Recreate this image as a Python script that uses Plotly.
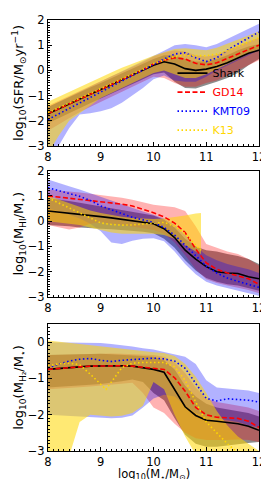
import plotly.graph_objects as go
from plotly.subplots import make_subplots

# ---------------- data ----------------
MASS = [8.0, 8.2, 8.4, 8.6, 8.8, 9.0, 9.2, 9.4, 9.6, 9.8, 10.0,
        10.2, 10.4, 10.6, 10.8, 11.0, 11.2, 11.4, 11.6, 11.8, 12.0]

# Panel 1: log10(SFR)
sfr_shark = [-1.72, -1.52, -1.33, -1.14, -0.95, -0.76, -0.57, -0.38, -0.19, 0.0, 0.2,
             0.34, 0.25, 0.07, 0.0, 0.05, 0.15, 0.3, 0.5, 0.68, 0.8]
sfr_shark_lo = [-2.1, -1.9, -1.7, -1.5, -1.3, -1.12, -0.93, -0.73, -0.55, -0.35, -0.15,
                -0.08, -0.45, -0.7, -0.72, -0.6, -0.45, -0.3, -0.1, 0.2, 0.45]
sfr_shark_hi = [-1.45, -1.25, -1.05, -0.86, -0.68, -0.5, -0.31, -0.12, 0.07, 0.27, 0.45,
                0.6, 0.6, 0.45, 0.35, 0.35, 0.45, 0.6, 0.8, 0.95, 1.05]
sfr_gd14 = [-1.72, -1.52, -1.33, -1.14, -0.95, -0.76, -0.57, -0.38, -0.19, 0.02, 0.25,
            0.4, 0.5, 0.45, 0.28, 0.22, 0.3, 0.48, 0.65, 0.85, 1.0]
sfr_gd14_lo = [-2.4, -2.15, -1.9, -1.65, -1.45, -1.25, -1.05, -0.85, -0.65, -0.45, -0.25,
               -0.3, -0.5, -0.65, -0.65, -0.5, -0.4, -0.2, 0.0, 0.2, 0.4]
sfr_gd14_hi = [-1.4, -1.2, -1.0, -0.8, -0.6, -0.42, -0.23, -0.05, 0.13, 0.33, 0.55,
               0.7, 0.8, 0.75, 0.6, 0.55, 0.62, 0.8, 0.98, 1.15, 1.3]
sfr_kmt = [-1.95, -1.73, -1.5, -1.28, -1.06, -0.84, -0.62, -0.41, -0.2, 0.02, 0.23,
           0.45, 0.65, 0.7, 0.5, 0.35, 0.5, 0.8, 1.05, 1.3, 1.52]
sfr_kmt_lo = [-3.5, -3.0, -2.3, -1.75, -1.7, -1.62, -1.5, -1.28, -1.0, -0.7, -0.35,
              -0.2, -0.4, -0.45, -0.45, -0.25, 0.0, 0.2, 0.4, 0.6, 0.8]
sfr_kmt_hi = [-1.45, -1.25, -1.05, -0.85, -0.65, -0.45, -0.25, -0.05, 0.15, 0.35, 0.55,
              0.78, 1.0, 1.05, 1.0, 0.92, 1.05, 1.25, 1.45, 1.65, 1.85]
sfr_k13 = [-1.68, -1.49, -1.3, -1.11, -0.92, -0.73, -0.54, -0.35, -0.16, 0.04, 0.27,
           0.42, 0.55, 0.6, 0.58, 0.58, 0.65, 0.78, 0.95, 1.12, 1.3]
sfr_k13_lo = [-3.3, -2.6, -2.0, -1.7, -1.4, -1.1, -0.9, -0.7, -0.5, -0.3, -0.1,
              0.0, -0.15, -0.3, -0.3, -0.15, 0.05, 0.25, 0.45, 0.65, 0.85]
sfr_k13_hi = [-1.25, -1.05, -0.85, -0.65, -0.45, -0.27, -0.08, 0.1, 0.27, 0.43, 0.58,
              0.72, 0.85, 0.88, 0.85, 0.8, 0.9, 1.05, 1.2, 1.38, 1.55]

# Panel 2: log10(M_HI/M*)
hi_shark = [0.4, 0.36, 0.32, 0.27, 0.22, 0.18, 0.13, 0.08, 0.03, -0.03, -0.1,
            -0.3, -0.65, -1.15, -1.5, -1.8, -2.0, -2.05, -2.07, -2.2, -2.28]
hi_shark_lo = [-0.15, -0.17, -0.2, -0.25, -0.28, -0.3, -0.32, -0.35, -0.38, -0.42, -0.48,
               -0.7, -1.05, -1.55, -1.95, -2.25, -2.4, -2.5, -2.55, -2.65, -2.75]
hi_shark_hi = [0.9, 0.86, 0.8, 0.73, 0.66, 0.6, 0.53, 0.46, 0.38, 0.3, 0.22,
               0.05, -0.25, -0.7, -1.0, -1.15, -1.2, -1.3, -1.38, -1.5, -1.7]
hi_gd14 = [1.0, 0.95, 0.9, 0.87, 0.82, 0.78, 0.73, 0.67, 0.6, 0.48, 0.33,
           0.17, -0.08, -0.45, -1.1, -1.65, -1.9, -2.05, -2.15, -2.28, -2.5]
hi_gd14_lo = [-0.15, -0.25, -0.33, -0.25, -0.1, -0.05, -0.1, -0.15, -0.2, -0.28, -0.35,
              -0.5, -0.85, -1.35, -1.9, -2.3, -2.45, -2.55, -2.65, -2.72, -2.85]
hi_gd14_hi = [1.25, 1.22, 1.18, 1.13, 1.08, 1.03, 0.98, 0.92, 0.85, 0.75, 0.65,
              0.6, 0.55, 0.4, -0.2, -0.9, -1.05, -1.2, -1.3, -1.5, -1.75]
hi_kmt = [1.32, 1.2, 1.1, 0.98, 0.82, 0.6, 0.45, 0.3, 0.15, 0.05, -0.05,
          -0.25, -0.55, -0.95, -1.35, -1.78, -2.05, -2.25, -2.38, -2.5, -2.62]
hi_kmt_lo = [0.5, 0.4, 0.25, 0.1, -0.1, -0.4, -0.85, -0.9, -0.78, -0.7, -0.68,
             -0.8, -1.2, -1.7, -2.1, -2.4, -2.55, -2.65, -2.75, -2.85, -2.95]
hi_kmt_hi = [1.65, 1.5, 1.38, 1.25, 1.1, 0.95, 0.8, 0.65, 0.5, 0.38, 0.25,
             0.1, -0.15, -0.55, -1.0, -1.35, -1.55, -1.7, -1.8, -1.9, -2.05]
hi_k13_mass = [8.0, 8.2, 8.4, 8.6, 8.8, 9.0, 9.2, 9.4, 9.6, 9.8, 10.0,
               10.2, 10.4, 10.6, 10.8, 10.9]
hi_k13 = [0.92, 0.72, 0.5, 0.3, 0.13, -0.07, -0.13, -0.16, -0.15, -0.12, -0.1,
          -0.05, -0.2, -0.5, -0.95, -1.15]
hi_k13_lo = [0.0, -0.05, -0.1, -0.15, -0.25, -0.35, -0.45, -0.5, -0.5, -0.5, -0.5,
             -0.55, -0.7, -0.95, -1.2, -1.3]
hi_k13_hi = [1.0, 0.85, 0.7, 0.55, 0.42, 0.32, 0.24, 0.17, 0.12, 0.09, 0.08,
             0.1, 0.15, 0.22, 0.3, 0.32]

# Panel 3: log10(M_H2/M*)
h2_shark = [-0.75, -0.72, -0.7, -0.68, -0.66, -0.65, -0.65, -0.65, -0.66, -0.7, -0.75,
            -0.83, -1.3, -1.78, -2.02, -2.15, -2.18, -2.22, -2.25, -2.32, -2.43]
h2_shark_lo = [-1.25, -1.23, -1.21, -1.19, -1.17, -1.15, -1.12, -1.08, -1.03, -1.1, -1.4,
               -1.6, -2.1, -2.55, -2.8, -2.88, -2.88, -2.85, -2.82, -2.78, -2.75]
h2_shark_hi = [-0.35, -0.34, -0.33, -0.33, -0.32, -0.32, -0.33, -0.34, -0.36, -0.38, -0.4,
               -0.5, -0.75, -1.2, -1.5, -1.7, -1.8, -1.85, -1.9, -1.95, -2.05]
h2_gd14 = [-0.75, -0.72, -0.7, -0.68, -0.66, -0.65, -0.65, -0.65, -0.66, -0.69, -0.72,
           -0.75, -0.98, -1.35, -1.8, -2.0, -2.07, -2.08, -2.1, -2.18, -2.35]
h2_gd14_lo = [-1.3, -1.28, -1.26, -1.24, -1.22, -1.2, -1.18, -1.15, -1.12, -1.4, -1.8,
              -1.95, -2.25, -2.5, -2.65, -2.7, -2.7, -2.7, -2.68, -2.7, -2.75]
h2_gd14_hi = [-0.35, -0.34, -0.33, -0.32, -0.31, -0.3, -0.31, -0.32, -0.33, -0.34, -0.35,
              -0.4, -0.55, -0.85, -1.25, -1.55, -1.65, -1.7, -1.75, -1.8, -1.9]
h2_kmt = [-0.7, -0.6, -0.52, -0.47, -0.45, -0.5, -0.53, -0.5, -0.48, -0.46, -0.44,
          -0.46, -0.52, -0.72, -1.12, -1.55, -1.62, -1.56, -1.58, -1.6, -1.65]
h2_kmt_lo = [-2.0, -2.0, -2.02, -2.05, -2.07, -2.08, -2.1, -2.08, -2.02, -1.8, -1.55,
             -1.45, -1.5, -1.75, -1.95, -2.05, -2.1, -2.15, -2.2, -2.3, -2.35]
h2_kmt_hi = [0.0, 0.0, 0.0, 0.0, -0.01, -0.02, -0.05, -0.08, -0.12, -0.17, -0.2,
             -0.27, -0.33, -0.4, -0.6, -1.05, -1.25, -1.28, -1.3, -1.33, -1.4]
h2_k13_mass = [8.0, 8.2, 8.4, 8.6, 8.8, 9.1, 9.4, 9.6, 9.8, 10.0,
               10.2, 10.4, 10.6, 10.8, 11.0, 11.2, 11.4, 11.6, 11.8, 12.0]
h2_k13 = [-0.65, -0.6, -0.58, -0.62, -0.88, -1.3, -0.7, -0.58, -0.56, -0.56,
          -0.56, -0.68, -1.05, -1.65, -2.2, -2.5, -2.8, -3.05, -3.35, -3.65]
h2_k13_lo = [-3.5, -3.4, -3.15, -2.2, -2.0, -2.03, -2.05, -2.03, -1.95, -1.75, -1.1,
             -1.3, -2.0, -2.6, -3.1, -3.3, -3.4, -3.5, -3.6, -3.7, -3.8]
h2_k13_hi = [0.05, 0.02, -0.02, -0.05, -0.08, -0.12, -0.15, -0.18, -0.2, -0.24, -0.28,
             -0.3, -0.38, -0.6, -0.95, -1.4, -1.9, -2.3, -2.6, -2.8, -3.0]

MODELS = ["Shark", "GD14", "KMT09", "K13"]
LINE_COLORS = ["black", "red", "blue", "gold"]
BAND_COLORS = ["rgba(0,0,0,0.45)", "rgba(255,0,0,0.3)", "rgba(0,0,255,0.3)", "rgba(255,215,0,0.55)"]
DASHES = ["solid", "5px,2.5px", "1.5px,2.5px", "1.5px,2.5px"]

YTITLES = [
    "log<sub>10</sub>(SFR/M<sub>⊙</sub>yr<sup>−1</sup>)",
    "log<sub>10</sub>(M<sub>HI</sub>/M<sub>⋆</sub>)",
    "log<sub>10</sub>(M<sub>H₂</sub>/M<sub>⋆</sub>)",
]
XTITLE = "log<sub>10</sub>(M<sub>⋆</sub>/M<sub>⊙</sub>)"
XTICKS = [8, 9, 10, 11, 12]

panels = [
    [(MASS, sfr_shark, sfr_shark_lo, sfr_shark_hi, MASS),
     (MASS, sfr_gd14, sfr_gd14_lo, sfr_gd14_hi, MASS),
     (MASS, sfr_kmt, sfr_kmt_lo, sfr_kmt_hi, MASS),
     (MASS, sfr_k13, sfr_k13_lo, sfr_k13_hi, MASS)],
    [(MASS, hi_shark, hi_shark_lo, hi_shark_hi, MASS),
     (MASS, hi_gd14, hi_gd14_lo, hi_gd14_hi, MASS),
     (MASS, hi_kmt, hi_kmt_lo, hi_kmt_hi, MASS),
     (hi_k13_mass, hi_k13, hi_k13_lo, hi_k13_hi, hi_k13_mass)],
    [(MASS, h2_shark, h2_shark_lo, h2_shark_hi, MASS),
     (MASS, h2_gd14, h2_gd14_lo, h2_gd14_hi, MASS),
     (MASS, h2_kmt, h2_kmt_lo, h2_kmt_hi, MASS),
     (h2_k13_mass, h2_k13, h2_k13_lo, h2_k13_hi, MASS)],
]
YRANGES = [[-3, 2], [-3, 2], [-3, 0.5]]

FONT = "DejaVu Sans"

fig = make_subplots(rows=3, cols=1)

for r, panel in enumerate(panels, start=1):
    # bands first
    for i, (xl, yl, lo, hi, xb) in enumerate(panel):
        fig.add_trace(go.Scatter(
            x=list(xb) + list(xb)[::-1], y=list(hi) + list(lo)[::-1],
            fill="toself", fillcolor=BAND_COLORS[i], line=dict(width=0),
            mode="lines", hoverinfo="skip", showlegend=False), row=r, col=1)
    # median lines on top
    for i, (xl, yl, lo, hi, xb) in enumerate(panel):
        name = "<span style='color:%s'>%s</span>" % (LINE_COLORS[i], MODELS[i])
        fig.add_trace(go.Scatter(
            x=xl, y=yl, mode="lines", name=name,
            line=dict(color=LINE_COLORS[i], width=1.6, dash=DASHES[i]),
            showlegend=(r == 1)), row=r, col=1)

# layout geometry (pixels): plot area x 40..251, panels at y 5-133, 158-286, 314-443
H, W = 479, 269
top, bottom = 5, 443
ph = bottom - top
def dom(y0, y1):
    return [(bottom - y1) / ph, (bottom - y0) / ph]

domains = [dom(5, 133), dom(158, 286.5), dom(314, 443)]

for r in range(1, 4):
    fig.update_xaxes(
        row=r, col=1, range=[8, 12], tickvals=XTICKS, ticks="inside", ticklen=4,
        tickcolor="black", showline=True, linecolor="black", linewidth=1,
        mirror=True, showgrid=False, zeroline=False,
        tickfont=dict(family=FONT, size=11.5, color="black"),
        minor=dict(ticks="inside", ticklen=2, dtick=0.1, tick0=8, tickcolor="black", showgrid=False),
    )
    fig.update_yaxes(
        row=r, col=1, range=YRANGES[r - 1], tickmode="linear", tick0=0, dtick=1,
        ticks="inside", ticklen=4, tickcolor="black", showline=True,
        linecolor="black", linewidth=1, mirror=True, showgrid=False, zeroline=False,
        tickfont=dict(family=FONT, size=11.5, color="black"),
        minor=dict(ticks="inside", ticklen=2, dtick=0.1, tick0=0, tickcolor="black", showgrid=False),
        title=dict(text=YTITLES[r - 1], font=dict(family=FONT, size=13, color="black"), standoff=0),
        domain=domains[r - 1],
    )

# x-axis title placed just under the bottom panel's tick labels
fig.add_annotation(
    text=XTITLE, xref="paper", yref="paper", x=0.5, y=(bottom - 457) / ph,
    xanchor="center", yanchor="top", showarrow=False,
    font=dict(family=FONT, size=11.5, color="black"),
)

fig.update_layout(
    width=W, height=H,
    margin=dict(l=40, r=18, t=top, b=H - bottom),
    paper_bgcolor="white", plot_bgcolor="white",
    font=dict(family=FONT, color="black"),
    showlegend=True,
    legend=dict(x=0.59, y=domains[0][0] + 0.003, xanchor="left", yanchor="bottom",
                bgcolor="rgba(0,0,0,0)", font=dict(family=FONT, size=11),
                tracegroupgap=0, itemwidth=30),
)

fig.write_html("out.html")
